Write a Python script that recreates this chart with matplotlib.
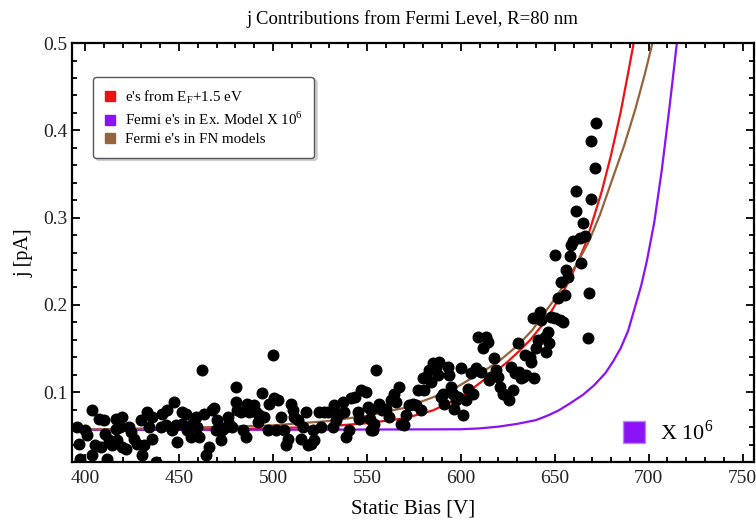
import matplotlib
matplotlib.use('Agg')
import matplotlib.pyplot as plt
from matplotlib.lines import Line2D
from matplotlib.ticker import MultipleLocator

plt.rcParams['font.family'] = ['Liberation Serif', 'DejaVu Serif']
plt.rcParams['mathtext.fontset'] = 'custom'
plt.rcParams['mathtext.rm'] = 'Liberation Serif'

# measured current (scatter)
bias = [395.7, 400.2, 396.6, 397.5, 403.7, 403.4, 401.1, 407.3, 410.0, 410.8,
        405.5, 408.2, 412.6, 411.7, 414.4, 416.2, 416.2, 419.4, 418.8, 417.1,
        419.7, 421.5, 423.3, 424.2, 426.0, 427.7, 429.5, 430.4, 431.3, 433.1,
        434.0, 435.7, 435.7, 437.5, 440.2, 441.1, 443.8, 442.9, 446.4, 447.3,
        449.1, 448.2, 451.8, 451.8, 453.5, 454.4, 456.2, 457.1, 458.9, 459.8,
        460.7, 462.4, 463.3, 464.2, 466.0, 467.8, 468.7, 469.5, 470.4, 472.2,
        473.1, 474.9, 475.8, 476.7, 478.4, 480.2, 480.2, 481.1, 482.9, 483.8,
        485.6, 486.4, 487.3, 490.0, 490.9, 491.8, 492.7, 494.4, 495.3, 497.1,
        498.0, 499.8, 500.7, 501.6, 502.5, 504.2, 506.0, 506.9, 507.8, 509.6,
        510.5, 511.3, 513.1, 514.9, 515.8, 517.6, 518.5, 520.2, 521.1, 522.0,
        524.7, 525.6, 527.4, 529.1, 531.8, 532.7, 533.6, 535.4, 537.1, 538.0,
        538.9, 540.7, 541.6, 543.4, 545.1, 546.0, 546.9, 549.6, 550.5, 551.4,
        552.3,
        554.7, 552.1, 553.9, 553.0, 556.5, 558.3, 560.1, 561.9, 562.8, 564.5,
        565.4, 567.2, 568.1, 569.9, 570.8, 572.5, 574.3, 576.1, 577.0, 578.8,
        579.7, 580.5, 581.4, 583.2, 584.1, 585.0, 586.8, 587.7, 588.5, 589.4,
        590.3, 591.2, 593.0, 593.9, 594.8, 595.7, 596.5, 597.4, 598.7, 600.1,
        601.0, 602.8, 603.7, 605.4, 606.3, 608.1, 609.0, 610.8, 611.7, 613.4,
        614.3, 615.2, 616.1, 617.9, 618.8, 619.7, 620.6, 622.3, 624.1, 625.9,
        626.8, 627.7, 628.6, 630.3, 631.2, 632.1, 633.0, 633.9, 634.8, 636.6,
        637.5, 638.4, 639.2, 640.1, 641.0, 641.9, 642.8, 644.6, 645.5, 646.4,
        647.2, 648.1, 649.9, 649.9, 651.7, 652.6, 654.4, 653.5, 655.2, 656.1,
        657.0, 657.9, 658.8, 659.7, 661.5, 661.5, 663.3, 664.1, 665.0, 665.9,
        667.7, 668.0, 669.5, 669.5, 671.3, 672.1]
current = [0.0602, 0.0564, 0.0410, 0.0238, 0.0276, 0.0793, 0.0506, 0.0698, 0.0679, 0.0525,
           0.0391, 0.0372, 0.0449, 0.0238, 0.0391, 0.0698, 0.0583, 0.0717, 0.0602, 0.0449,
           0.0372, 0.0353, 0.0602, 0.0544, 0.0468, 0.0410, 0.0679, 0.0276, 0.0391, 0.0774,
           0.0602, 0.0717, 0.0468, 0.0200, 0.0602, 0.0755, 0.0793, 0.0621, 0.0564, 0.0890,
           0.0430, 0.0621, 0.0774, 0.0640, 0.0755, 0.0564, 0.0487, 0.0640, 0.0717, 0.0602,
           0.0487, 0.1253, 0.0755, 0.0276, 0.0372, 0.0793, 0.0813, 0.0564, 0.0679, 0.0449,
           0.0564, 0.0602, 0.0717, 0.0640, 0.0602, 0.1062, 0.0890, 0.0793, 0.0774, 0.0564,
           0.0487, 0.0870, 0.0774, 0.0851, 0.0774, 0.0660, 0.0736, 0.0985, 0.0717, 0.0564,
           0.0870, 0.1426, 0.0928, 0.0564, 0.0909, 0.0717, 0.0564, 0.0391, 0.0468, 0.0870,
           0.0793, 0.0717, 0.0679, 0.0468, 0.0602, 0.0774, 0.0391, 0.0410, 0.0564, 0.0449,
           0.0774, 0.0602, 0.0774, 0.0774, 0.0602, 0.0851, 0.0679, 0.0755, 0.0890, 0.0774,
           0.0487, 0.0564, 0.0928, 0.0947, 0.0774, 0.0698, 0.1023, 0.1004, 0.0832, 0.0698,
           0.0564,
           0.1253, 0.0793, 0.0640, 0.0563, 0.0870, 0.0793, 0.0812, 0.0716, 0.0908, 0.0984,
           0.0889, 0.1061, 0.0640, 0.0621, 0.0735, 0.0850, 0.0870, 0.0850, 0.1023, 0.0793,
           0.1157, 0.1023, 0.1176, 0.1253, 0.1118, 0.1329, 0.1272, 0.1195, 0.1348, 0.0946,
           0.0984, 0.0870, 0.1291, 0.1195, 0.1061, 0.0984, 0.0812, 0.0908, 0.0946, 0.1272,
           0.0735, 0.0908, 0.1042, 0.1214, 0.0984, 0.1272, 0.1636, 0.1233, 0.1502, 0.1636,
           0.1578, 0.1138, 0.1176, 0.1387, 0.1253, 0.1176, 0.1061, 0.0984, 0.0965, 0.0908,
           0.1291, 0.1023, 0.1214, 0.1559, 0.1233, 0.1157, 0.1176, 0.1425, 0.1195, 0.1406,
           0.1348, 0.1846, 0.1157, 0.1502, 0.1597, 0.1923, 0.1827, 0.1636, 0.1463, 0.1693,
           0.1559, 0.1866, 0.1846, 0.2574, 0.2076, 0.1827, 0.1808, 0.2268, 0.2115, 0.2402,
           0.2325, 0.2555, 0.2689, 0.2728, 0.3302, 0.3072, 0.2766, 0.2479, 0.2938, 0.2785,
           0.1617, 0.2134, 0.3877, 0.3214, 0.3571, 0.4088]

# model curves
red_v = [393, 450, 500, 530, 550, 570, 585, 595, 600, 605, 611, 618, 625, 631, 637,
         643, 648, 653, 657, 662, 666, 670, 675, 680, 685, 689, 692, 697]
red_j = [0.057, 0.0573, 0.0585, 0.061, 0.0645, 0.070, 0.079, 0.089, 0.095, 0.102,
         0.112, 0.123, 0.135, 0.147, 0.160, 0.176, 0.192, 0.210, 0.225, 0.248,
         0.268, 0.295, 0.33, 0.372, 0.42, 0.465, 0.50, 0.56]

purple_v = [393, 500, 600, 610, 620, 630, 640, 646, 652, 658, 665, 671, 677, 681,
            685, 689, 692.5, 696, 699, 703, 707, 711, 715, 719]
purple_j = [0.0568, 0.0569, 0.0575, 0.0585, 0.0605, 0.0637, 0.068, 0.073, 0.079,
            0.087, 0.097, 0.108, 0.122, 0.135, 0.150, 0.170, 0.196, 0.222, 0.250,
            0.295, 0.355, 0.425, 0.50, 0.58]

brown_v = [393, 450, 500, 530, 550, 570, 590, 598, 605, 612, 620, 625, 630, 638, 645,
           651, 657, 663, 668, 674, 680, 687, 693, 698, 702, 707]
brown_j = [0.057, 0.059, 0.062, 0.067, 0.073, 0.082, 0.098, 0.106, 0.115, 0.124,
           0.135, 0.144, 0.153, 0.171, 0.192, 0.210, 0.230, 0.252, 0.272, 0.303,
           0.34, 0.383, 0.425, 0.465, 0.50, 0.55]

legend_labels = ["e's from E$_\\mathrm{F}$+1.5 eV",
                 "Fermi e's in Ex. Model X 10$^6$",
                 "Fermi e's in FN models"]
c_red = '#f01010'
c_purple = '#8a12f5'
c_brown = '#96643c'

fig = plt.figure(figsize=(7.56, 5.25), dpi=100)
ax = fig.add_axes([0.0952, 0.12, 0.902, 0.798])

ax.scatter(bias, current, s=58, c='black', zorder=3, clip_on=True)
ax.plot(red_v, red_j, c=c_red, lw=1.6, zorder=2)
ax.plot(purple_v, purple_j, c=c_purple, lw=1.6, zorder=2)
ax.plot(brown_v, brown_j, c=c_brown, lw=1.6, zorder=2)

ax.set_xlim(393, 756)
ax.set_ylim(0.02, 0.5)
ax.xaxis.set_major_locator(MultipleLocator(50))
ax.xaxis.set_minor_locator(MultipleLocator(10))
ax.yaxis.set_major_locator(MultipleLocator(0.1))
ax.yaxis.set_minor_locator(MultipleLocator(0.02))
ax.tick_params(which='both', direction='in', top=True, right=True,
               labelsize=14, labelcolor='#222222', width=1.3)
ax.tick_params(axis='x', which='major', pad=6)
ax.tick_params(axis='y', which='major', pad=3)
ax.tick_params(which='major', length=6)
ax.tick_params(which='minor', length=3.5)
for sp in ax.spines.values():
    sp.set_linewidth(1.6)

ax.set_title('j Contributions from Fermi Level, R=80 nm', fontsize=13.5, pad=14)
ax.set_xlabel('Static Bias [V]', fontsize=15, labelpad=9)
ax.set_ylabel('j [pA]', fontsize=14.5, labelpad=7)

handles = [Line2D([], [], ls='None', marker='s', ms=7, mfc=c, mec=c)
           for c in (c_red, c_purple, c_brown)]
leg = ax.legend(handles, legend_labels, loc='upper left',
                bbox_to_anchor=(0.031, 0.919), fontsize=10.8, frameon=True,
                fancybox=True, shadow={'color': '#999999', 'alpha': 0.4},
                borderpad=0.75, labelspacing=0.32,
                handlelength=0.8, handletextpad=0.6, borderaxespad=0)
leg.get_frame().set_edgecolor('#555555')
leg.get_frame().set_linewidth(1.0)

# scale note for the purple curve
ax.plot([0.824], [0.071], transform=ax.transAxes, marker='s', ms=16,
        mfc=c_purple, mec='#b090e0', ls='None', clip_on=False)
ax.text(0.862, 0.071, 'X 10$^6$', transform=ax.transAxes, fontsize=16,
        va='center', ha='left')

fig.savefig('out.png', dpi=100)
